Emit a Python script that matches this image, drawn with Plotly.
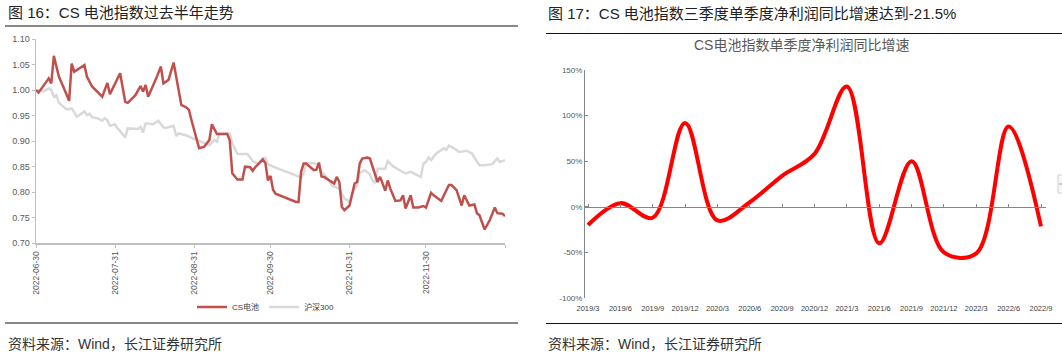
import plotly.graph_objects as go

W, H = 1062, 355

# ---------------- Left chart data: CS电池 vs 沪深300 (normalised) ----------------
csi_dates = ["2022-06-30", "2022-07-01", "2022-07-05", "2022-07-06", "2022-07-07", "2022-07-09",
             "2022-07-11", "2022-07-13", "2022-07-14", "2022-07-15", "2022-07-19", "2022-07-20",
             "2022-07-22", "2022-07-26", "2022-07-28", "2022-07-29", "2022-08-02", "2022-08-04",
             "2022-08-05", "2022-08-08", "2022-08-10", "2022-08-11", "2022-08-12", "2022-08-13",
             "2022-08-16", "2022-08-18", "2022-08-19", "2022-08-21", "2022-08-23", "2022-08-25",
             "2022-08-26", "2022-08-28", "2022-08-29", "2022-08-30", "2022-09-01", "2022-09-02",
             "2022-09-04", "2022-09-06", "2022-09-07", "2022-09-09", "2022-09-13", "2022-09-14",
             "2022-09-15", "2022-09-17", "2022-09-19", "2022-09-20", "2022-09-22", "2022-09-23",
             "2022-09-24", "2022-09-26", "2022-09-27", "2022-09-28", "2022-09-29", "2022-09-30",
             "2022-10-01", "2022-10-02", "2022-10-10", "2022-10-11", "2022-10-12", "2022-10-13",
             "2022-10-14", "2022-10-17", "2022-10-18", "2022-10-19", "2022-10-20", "2022-10-21",
             "2022-10-25", "2022-10-26", "2022-10-27", "2022-10-28", "2022-10-29", "2022-10-31",
             "2022-11-02", "2022-11-03", "2022-11-04", "2022-11-05", "2022-11-07", "2022-11-08",
             "2022-11-09", "2022-11-11", "2022-11-12", "2022-11-14", "2022-11-15", "2022-11-16",
             "2022-11-18", "2022-11-20", "2022-11-21", "2022-11-22", "2022-11-24", "2022-11-25",
             "2022-11-27", "2022-11-29", "2022-11-30", "2022-12-02", "2022-12-03", "2022-12-06",
             "2022-12-09", "2022-12-10", "2022-12-12", "2022-12-14", "2022-12-15", "2022-12-17",
             "2022-12-19", "2022-12-20", "2022-12-21", "2022-12-23", "2022-12-25", "2022-12-27",
             "2022-12-28", "2022-12-30", "2022-12-31"]
csi_vals = [1.000, 0.995, 1.023, 1.013, 1.067, 1.026,
            1.003, 0.979, 1.052, 1.036, 1.049, 1.026,
            1.007, 0.987, 1.014, 0.992, 1.033, 0.977,
            0.975, 0.990, 1.008, 0.997, 1.010, 0.987,
            1.021, 1.046, 1.013, 1.020, 1.054, 0.997,
            0.971, 0.966, 0.961, 0.941, 0.902, 0.886,
            0.889, 0.902, 0.933, 0.914, 0.914, 0.902,
            0.837, 0.825, 0.825, 0.850, 0.849, 0.842,
            0.849, 0.860, 0.864, 0.857, 0.823, 0.832,
            0.805, 0.797, 0.781, 0.781, 0.840, 0.856,
            0.856, 0.843, 0.844, 0.858, 0.831, 0.830,
            0.817, 0.830, 0.820, 0.771, 0.765, 0.774,
            0.817, 0.820, 0.856, 0.866, 0.868, 0.866,
            0.850, 0.820, 0.830, 0.803, 0.823, 0.807,
            0.783, 0.784, 0.794, 0.768, 0.794, 0.770,
            0.770, 0.773, 0.770, 0.799, 0.794, 0.783,
            0.814, 0.814, 0.804, 0.774, 0.794, 0.774,
            0.776, 0.759, 0.755, 0.727, 0.745, 0.770,
            0.759, 0.758, 0.753]

hs_dates = ["2022-06-30", "2022-07-03", "2022-07-05", "2022-07-06", "2022-07-07", "2022-07-08",
            "2022-07-09", "2022-07-12", "2022-07-14", "2022-07-16", "2022-07-17", "2022-07-19",
            "2022-07-20", "2022-07-21", "2022-07-22", "2022-07-24", "2022-07-26", "2022-07-27",
            "2022-07-28", "2022-07-29", "2022-07-31", "2022-08-01", "2022-08-02", "2022-08-04",
            "2022-08-05", "2022-08-09", "2022-08-10", "2022-08-11", "2022-08-12", "2022-08-15",
            "2022-08-17", "2022-08-19", "2022-08-20", "2022-08-23", "2022-08-24", "2022-08-25",
            "2022-08-28", "2022-09-01", "2022-09-04", "2022-09-06", "2022-09-08", "2022-09-09",
            "2022-09-10", "2022-09-14", "2022-09-15", "2022-09-17", "2022-09-21", "2022-09-23",
            "2022-09-25", "2022-09-27", "2022-09-28", "2022-09-29", "2022-10-01", "2022-10-12",
            "2022-10-13", "2022-10-14", "2022-10-17", "2022-10-19", "2022-10-20", "2022-10-22",
            "2022-10-24", "2022-10-25", "2022-10-27", "2022-10-29", "2022-10-31", "2022-11-01",
            "2022-11-03", "2022-11-04", "2022-11-06", "2022-11-08", "2022-11-09", "2022-11-10",
            "2022-11-11", "2022-11-14", "2022-11-15", "2022-11-17", "2022-11-20", "2022-11-22",
            "2022-11-24", "2022-11-26", "2022-11-28", "2022-11-29", "2022-11-30", "2022-12-01",
            "2022-12-02", "2022-12-04", "2022-12-07", "2022-12-08", "2022-12-09", "2022-12-11",
            "2022-12-13", "2022-12-16", "2022-12-18", "2022-12-19", "2022-12-21", "2022-12-23",
            "2022-12-26", "2022-12-28", "2022-12-29", "2022-12-31"]
hs_vals = [1.000, 0.998, 1.003, 1.000, 0.987, 0.990,
           0.975, 0.962, 0.964, 0.948, 0.951, 0.958,
           0.951, 0.954, 0.947, 0.945, 0.940, 0.945,
           0.941, 0.930, 0.933, 0.925, 0.920, 0.907,
           0.925, 0.924, 0.928, 0.917, 0.935, 0.933,
           0.940, 0.927, 0.926, 0.930, 0.910, 0.915,
           0.911, 0.902, 0.896, 0.892, 0.902, 0.899,
           0.915, 0.915, 0.896, 0.875, 0.875, 0.861,
           0.856, 0.866, 0.867, 0.855, 0.850, 0.829,
           0.837, 0.856, 0.857, 0.853, 0.840, 0.830,
           0.814, 0.811, 0.807, 0.788, 0.781, 0.797,
           0.814, 0.838, 0.843, 0.835, 0.823, 0.818,
           0.846, 0.846, 0.861, 0.851, 0.842, 0.837,
           0.840, 0.835, 0.830, 0.856, 0.859, 0.868,
           0.863, 0.876, 0.886, 0.883, 0.891, 0.886,
           0.879, 0.881, 0.876, 0.868, 0.853, 0.853,
           0.855, 0.866, 0.859, 0.863]

date_ticks = ["2022-06-30", "2022-07-31", "2022-08-31", "2022-09-30", "2022-10-31", "2022-11-30", "2022-12-31"]
date_tick_text = ["2022-06-30", "2022-07-31", "2022-08-31", "2022-09-30", "2022-10-31", "2022-11-30", ""]
left_y_ticks = [0.70, 0.75, 0.80, 0.85, 0.90, 0.95, 1.00, 1.05, 1.10]

# ---------------- Right chart data: quarterly net profit YoY ----------------
quarters = ["2019/3", "2019/6", "2019/9", "2019/12", "2020/3", "2020/6", "2020/9", "2020/12",
            "2021/3", "2021/6", "2021/9", "2021/12", "2022/3", "2022/6", "2022/9"]
growth = [-20, 4, -12, 92, -15, 5, 34, 58, 132, -40, 50, -50, -51, 88, -21.5]
right_y_ticks = [-100, -50, 0, 50, 100, 150]
right_y_text = ["-100%", "-50%", "0%", "50%", "100%", "150%"]

FONT = "Liberation Sans, Arial, Noto Sans CJK SC, sans-serif"


def px(x):
    return x / W


def py(y):
    return 1 - y / H


fig = go.Figure()

# Left chart traces (gray first so red sits on top)
fig.add_trace(go.Scatter(x=hs_dates, y=hs_vals, mode="lines", name="沪深300",
                         line=dict(color="#d9d9d9", width=2.5), legendrank=2,
                         xaxis="x", yaxis="y", hoverinfo="skip"))
fig.add_trace(go.Scatter(x=csi_dates, y=csi_vals, mode="lines", name="CS电池",
                         line=dict(color="#c0504d", width=2.5), legendrank=1,
                         xaxis="x", yaxis="y", hoverinfo="skip"))

# Right chart trace
fig.add_trace(go.Scatter(x=quarters, y=growth, mode="lines", name="净利润同比",
                         line=dict(color="#ff0000", width=4, shape="spline", smoothing=1.0),
                         showlegend=False, xaxis="x2", yaxis="y2", hoverinfo="skip"))
# helper (empty) trace so the zero-line axis exists
fig.add_trace(go.Scatter(x=quarters, y=[None] * len(quarters), mode="lines", showlegend=False,
                         xaxis="x3", yaxis="y2", hoverinfo="skip"))

# geometry
L_X0, L_X1, L_Y0, L_Y1 = 36, 505, 243.3, 39
R_X0, R_X1, R_Y0, R_Y1 = 585, 1046, 298, 70
r_min, r_max = -100, 150
r_dom = [py(R_Y0), py(R_Y1)]
zero_pos = r_dom[0] + (0 - r_min) / (r_max - r_min) * (r_dom[1] - r_dom[0])
cat_step = (1041 - 588) / 14.0
r_range = [-(588 - R_X0) / cat_step, 14 + (R_X1 - 1041) / cat_step]

axis_gray = "#bfbfbf"
fig.update_layout(
    width=W, height=H, margin=dict(l=0, r=0, t=0, b=0),
    paper_bgcolor="white", plot_bgcolor="rgba(0,0,0,0)",
    template="none",
    font=dict(family=FONT, color="#404040"),
    hovermode=False,
    showlegend=True,
    legend=dict(orientation="h", x=px(266), xanchor="center", y=py(307), yanchor="middle",
                font=dict(size=8, color="#404040", family=FONT), bgcolor="rgba(0,0,0,0)",
                itemwidth=30, tracegroupgap=0),
    xaxis=dict(domain=[px(L_X0), px(L_X1)], anchor="y", type="date",
               range=["2022-06-30", "2022-12-31"], tickvals=date_ticks, ticktext=date_tick_text,
               tickangle=-90, ticks="outside", ticklen=3, tickcolor=axis_gray,
               showline=True, linecolor=axis_gray, linewidth=1.5, showgrid=False, zeroline=False,
               tickfont=dict(size=8.5, color="#595959")),
    yaxis=dict(domain=[py(L_Y0), py(L_Y1)], anchor="x", range=[0.70, 1.10],
               tickvals=left_y_ticks, tickformat=".2f", ticks="outside", ticklen=3,
               tickcolor=axis_gray, showline=True, linecolor=axis_gray, linewidth=1.5,
               showgrid=False, zeroline=False, tickfont=dict(size=9, color="#595959")),
    xaxis2=dict(domain=[px(R_X0), px(R_X1)], anchor="y2", type="category",
                categoryorder="array", categoryarray=quarters, range=r_range,
                showline=False, ticks="outside", ticklen=3, tickcolor="rgba(0,0,0,0)",
                showgrid=False, zeroline=False, tickfont=dict(size=7.5, color="#404040")),
    xaxis3=dict(overlaying="x2", anchor="free", position=zero_pos, type="category",
                categoryorder="array", categoryarray=quarters, range=r_range,
                showline=True, linecolor="#868686", linewidth=1, ticks="inside", ticklen=3,
                tickcolor="#868686", showticklabels=False, showgrid=False, zeroline=False),
    yaxis2=dict(domain=r_dom, anchor="x2", range=[r_min, r_max], tickvals=right_y_ticks,
                ticktext=right_y_text, ticks="inside", ticklen=3, tickcolor="#868686",
                showline=True, linecolor="#868686", linewidth=1, showgrid=False, zeroline=False,
                tickfont=dict(size=8, color="#595959")),
)

title_font = dict(family=FONT, size=15, color="#222222")
ann = [
    dict(text="图 16：CS 电池指数过去半年走势", x=px(6), y=py(12.5), xanchor="left", yanchor="middle",
         font=title_font),
    dict(text="图 17：CS 电池指数三季度单季度净利润同比增速达到-21.5%", x=px(546), y=py(14),
         xanchor="left", yanchor="middle", font=title_font),
    dict(text="CS电池指数单季度净利润同比增速", x=px(801), y=py(45), xanchor="center", yanchor="middle",
         font=dict(family=FONT, size=14, color="#595959")),
    dict(text="资料来源：Wind，长江证券研究所", x=px(6), y=py(344), xanchor="left", yanchor="middle",
         font=dict(family=FONT, size=14, color="#333333")),
    dict(text="资料来源：Wind，长江证券研究所", x=px(546), y=py(344), xanchor="left", yanchor="middle",
         font=dict(family=FONT, size=14, color="#333333")),
]
for a in ann:
    a.update(xref="paper", yref="paper", showarrow=False)
fig.update_layout(annotations=ann)

shapes = [
    dict(type="line", x0=px(5), x1=px(518), y0=py(26), y1=py(26), line=dict(color="#111", width=1)),
    dict(type="line", x0=px(5), x1=px(518), y0=py(323), y1=py(323), line=dict(color="#111", width=1)),
    dict(type="line", x0=px(546), x1=px(1062), y0=py(33.5), y1=py(33.5), line=dict(color="#111", width=1)),
    dict(type="line", x0=px(546), x1=px(1062), y0=py(323.5), y1=py(323.5), line=dict(color="#111", width=1)),
    dict(type="rect", x0=px(1058), x1=px(1064), y0=py(193), y1=py(175),
         fillcolor="#f8f8f8", line=dict(color="#d0d0d0", width=1)),
    dict(type="line", x0=px(1059), x1=px(1062), y0=py(184), y1=py(184), line=dict(color="#9a9a9a", width=1)),
]
for s in shapes:
    s.update(xref="paper", yref="paper")
fig.update_layout(shapes=shapes)

fig.write_html("out.html", config={"displayModeBar": False, "staticPlot": True},
               post_script="document.body.style.margin='0';document.body.style.overflow='hidden';")
